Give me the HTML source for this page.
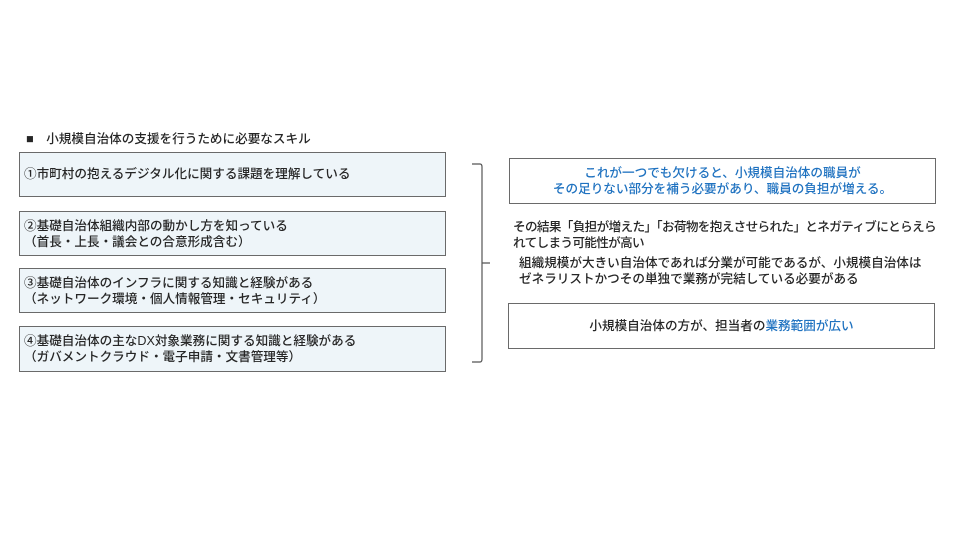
<!DOCTYPE html>
<html><head><meta charset="utf-8"><style>
body{margin:0;width:960px;height:540px;background:#fff;position:relative;font-family:"Liberation Sans","Noto Sans CJK JP",sans-serif;color:#262626;font-size:12.6px;font-weight:500;overflow:hidden}
.a{position:absolute;white-space:nowrap;line-height:16px}
.b{position:absolute;box-sizing:border-box;border:1.5px solid #6a6a6a;background:#eef5f9}
.w{position:absolute;box-sizing:border-box;border:1.5px solid #6a6a6a;background:#fff;text-align:center;line-height:16px;white-space:nowrap}
.bl{color:#1f72c0}
</style></head><body>
<div class="a" style="left:26px;top:131px">■　小規模自治体の支援を行うために必要なスキル</div>
<div class="b" style="left:19px;top:152px;width:427px;height:45px"></div>
<div class="a" style="left:24px;top:166px">①市町村の抱えるデジタル化に関する課題を理解している</div>
<div class="b" style="left:19px;top:211px;width:427px;height:45px"></div>
<div class="a" style="left:24px;top:218px">②基礎自治体組織内部の動かし方を知っている<br>（首長・上長・議会との合意形成含む）</div>
<div class="b" style="left:19px;top:268px;width:427px;height:45px"></div>
<div class="a" style="left:24px;top:275px">③基礎自治体のインフラに関する知識と経験がある<br>（ネットワーク環境・個人情報管理・セキュリティ）</div>
<div class="b" style="left:19px;top:326px;width:427px;height:46px"></div>
<div class="a" style="left:24px;top:333px">④基礎自治体の主なDX対象業務に関する知識と経験がある<br>（ガバメントクラウド・電子申請・文書管理等）</div>
<svg style="position:absolute;left:0;top:0" width="960" height="540"><path d="M472 164 L480 164 Q482 164 482 167 L482 359 Q482 362 480 362 L472 362 M482 263 L490 263" fill="none" stroke="#555" stroke-width="1.2"/></svg>
<div class="w" style="left:509px;top:158px;width:427px;height:46px;padding-top:6px"><span class="bl">これが一つでも欠けると、小規模自治体の職員が<br>その足りない部分を補う必要があり、職員の負担が増える。</span></div>
<div class="a" style="left:513px;top:219px;letter-spacing:-0.65px">その結果「負担が増えた」「お荷物を抱えさせられた」とネガティブにとらえら<br>れてしまう可能性が高い</div>
<div class="a" style="left:519px;top:255px">組織規模が大きい自治体であれば分業が可能であるが、小規模自治体は<br>ゼネラリストかつその単独で業務が完結している必要がある</div>
<div class="w" style="left:508px;top:303px;width:427px;height:46px;padding-top:14px">小規模自治体の方が、担当者の<span class="bl">業務範囲が広い</span></div>
</body></html>
